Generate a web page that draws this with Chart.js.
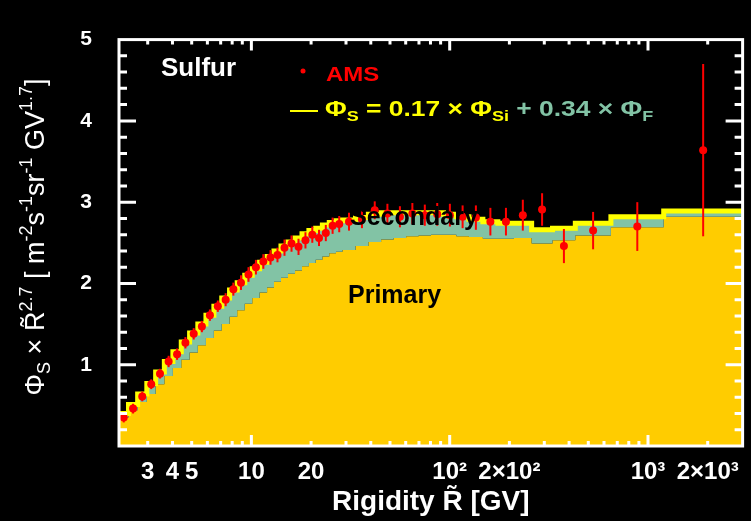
<!DOCTYPE html>
<html><head><meta charset="utf-8">
<script src="https://cdn.jsdelivr.net/npm/chart.js@4/dist/chart.umd.min.js"></script>
<style>html,body{margin:0;padding:0;background:#000;overflow:hidden}</style>
</head><body>
<canvas id="c" width="751" height="521"></canvas>
<script>
// ---- data ----
const binEdges = [2.15, 2.40, 2.67, 2.97, 3.29, 3.64, 4.02, 4.43, 4.88, 5.37, 5.90, 6.47, 7.09, 7.76, 8.48, 9.26, 10.1, 11.0, 12.0, 13.0, 14.1, 15.3, 16.6, 18.0, 19.5, 21.1, 22.8, 24.7, 26.7, 28.8, 33.5, 38.9, 45.1, 52.2, 60.3, 69.7, 80.5, 93.0, 108, 125, 147, 175, 211, 259, 330, 430, 650, 1200, 3000];
const amsFlux = [0.35,0.46,0.61,0.76,0.89,1.04,1.13,1.27,1.38,1.47,1.61,1.72,1.80,1.93,2.01,2.11,2.20,2.27,2.32,2.35,2.44,2.49,2.45,2.53,2.60,2.56,2.62,2.71,2.73,
  2.76,2.79,2.90,2.86,2.82,2.86,2.84,2.85,2.84,2.82,2.81,2.76,2.76,2.84,2.91,2.46,2.65,2.70,3.64];
const amsError = [0.06,0.06,0.06,0.06,0.06,0.07,0.07,0.07,0.07,0.07,0.07,0.07,0.08,0.08,0.09,0.09,0.09,0.09,0.09,0.09,
  0.10,0.10,0.10,0.10,0.10,0.10,0.10,0.10,0.10,
  0.11,0.11,0.11,0.12,0.13,0.13,0.13,0.14,0.14,0.14,0.15,0.17,0.17,0.19,0.20,0.21,0.23,0.30,1.06];
const primaryModel = [0.35,0.44,0.54,0.64,0.76,0.86,0.96,1.06,1.15,1.24,1.33,1.42,1.50,1.59,1.67,1.75,1.82,1.89,1.95,2.02,2.07,2.12,2.16,2.21,2.25,2.29,2.33,2.37,2.39,
  2.41,2.46,2.51,2.54,2.56,2.58,2.59,2.60,2.60,2.58,2.57,2.55,2.55,2.56,2.49,2.53,2.59,2.69,2.82];
const secondaryModel = [0.05,0.07,0.10,0.13,0.15,0.18,0.20,0.22,0.24,0.26,0.28,0.30,0.32,0.33,0.34,0.35,0.36,0.37,0.38,0.38,0.39,0.39,0.40,0.40,0.40,0.39,0.39,0.38,0.38,
  0.37,0.35,0.34,0.33,0.31,0.29,0.28,0.27,0.25,0.24,0.22,0.21,0.19,0.18,0.17,0.15,0.15,0.13,0.07];
const xTickValues = [3, 4, 5, 10, 20, 100, 200, 1000, 2000];
const xTickLabels = ['3', '4', '5', '10', '20', '10\u00B2', '2\u00D710\u00B2', '10\u00B3', '2\u00D710\u00B3'];
const yTickValues = [1, 2, 3, 4, 5];

// ---- colours ----
const GOLD = '#FFCC00', TEAL = '#82C3A5', YEL = '#FFFF00', RED = '#FF0000';
const FONT = "'Liberation Sans', Arial, sans-serif";

// ---- tables built for the library ----
const nb = primaryModel.length;
const primaryPts = binEdges.map((e, i) => ({x: e, y: primaryModel[Math.min(i, nb - 1)]}));
const totalPts = binEdges.map((e, i) => { const k = Math.min(i, nb - 1); return {x: e, y: primaryModel[k] + secondaryModel[k]}; });
const amsPts = amsFlux.map((v, i) => ({x: Math.sqrt(binEdges[i] * binEdges[i + 1]), y: v}));

function drawRich(ctx, segs, x, y, align) {
  let w = 0;
  segs.forEach(s => { ctx.font = (s.bold ? 'bold ' : '') + s.size + 'px ' + FONT; s.w = ctx.measureText(s.t).width; w += s.w; });
  let cx = align === 'center' ? x - w / 2 : x;
  segs.forEach(s => {
    ctx.font = (s.bold ? 'bold ' : '') + s.size + 'px ' + FONT;
    ctx.fillStyle = s.color;
    ctx.fillText(s.t, cx, y + (s.dy || 0));
    cx += s.w;
  });
}

const errorBars = {
  id: 'errorBars',
  beforeDatasetDraw(chart, args) {
    if (args.index !== 2) return;
    const ctx = chart.ctx, ys = chart.scales.y, meta = chart.getDatasetMeta(2);
    ctx.save();
    ctx.strokeStyle = RED; ctx.lineWidth = 2;
    meta.data.forEach((pt, i) => {
      ctx.beginPath();
      ctx.moveTo(pt.x, ys.getPixelForValue(amsFlux[i] - amsError[i]));
      ctx.lineTo(pt.x, ys.getPixelForValue(amsFlux[i] + amsError[i]));
      ctx.stroke();
    });
    ctx.restore();
  }
};

const frameAndText = {
  id: 'frameAndText',
  afterDraw(chart) {
    const ctx = chart.ctx, a = chart.chartArea, xs = chart.scales.x, ys = chart.scales.y;
    ctx.save();
    // in-plot labels
    ctx.textBaseline = 'middle'; ctx.textAlign = 'left';
    ctx.font = 'bold 25px ' + FONT; ctx.fillStyle = '#000';
    ctx.fillText('Secondary', 350, 218);
    ctx.fillText('Primary', 348, 296);
    ctx.font = 'bold 26px ' + FONT; ctx.fillStyle = '#fff';
    ctx.fillText('Sulfur', 161, 69);
    // legend
    ctx.fillStyle = RED;
    ctx.beginPath(); ctx.arc(303, 71, 2.5, 0, Math.PI * 2); ctx.fill();
    ctx.strokeStyle = YEL; ctx.lineWidth = 2;
    ctx.beginPath(); ctx.moveTo(290, 111); ctx.lineTo(318, 111); ctx.stroke();
    ctx.textBaseline = 'alphabetic';
    ctx.save(); ctx.translate(326, 81); ctx.scale(1.2, 1);
    drawRich(ctx, [{t: 'AMS', size: 20, bold: true, color: RED}], 0, 0, 'left');
    ctx.restore();
    ctx.save(); ctx.translate(325, 116); ctx.scale(1.2, 1);
    drawRich(ctx, [
      {t: '\u03A6', size: 22, bold: true, color: YEL},
      {t: 'S', size: 15, bold: true, color: YEL, dy: 5},
      {t: ' = 0.17 \u00D7 \u03A6', size: 22, bold: true, color: YEL},
      {t: 'Si', size: 15, bold: true, color: YEL, dy: 5},
      {t: ' + 0.34 \u00D7 \u03A6', size: 22, bold: true, color: TEAL},
      {t: 'F', size: 15, bold: true, color: TEAL, dy: 5}
    ], 0, 0, 'left');
    ctx.restore();
    // y axis title
    ctx.save(); ctx.translate(44, 237); ctx.rotate(-Math.PI / 2);
    const W = '#fff';
    drawRich(ctx, [
      {t: '\u03A6', size: 27, color: W},
      {t: 'S', size: 18, color: W, dy: 6},
      {t: ' \u00D7 ', size: 27, color: W},
      {t: 'R\u0303', size: 27, color: W},
      {t: '2.7', size: 18, color: W, dy: -12},
      {t: ' [ m', size: 27, color: W},
      {t: '-2', size: 18, color: W, dy: -12},
      {t: 's', size: 27, color: W},
      {t: '-1', size: 18, color: W, dy: -12},
      {t: 'sr', size: 27, color: W},
      {t: '-1', size: 18, color: W, dy: -12},
      {t: ' GV', size: 27, color: W},
      {t: '1.7', size: 18, color: W, dy: -12},
      {t: ']', size: 27, color: W}
    ], 0, 0, 'center');
    ctx.restore();
    // ticks (inside) and frame
    ctx.strokeStyle = '#fff'; ctx.lineWidth = 3;
    ctx.beginPath();
    [1, 10, 100, 1000].forEach(d => {
      for (let m = 1; m <= 9; m++) {
        const v = m * d;
        if (v <= xs.min || v >= xs.max) continue;
        const px = xs.getPixelForValue(v), len = m === 1 ? 11 : 5;
        ctx.moveTo(px, a.bottom); ctx.lineTo(px, a.bottom - len);
        ctx.moveTo(px, a.top); ctx.lineTo(px, a.top + len);
      }
    });
    for (let k = 1; k < 25; k++) {
      const py = ys.getPixelForValue(k * 0.2), len = k % 5 === 0 ? 17 : 8;
      ctx.moveTo(a.left, py); ctx.lineTo(a.left + len, py);
      ctx.moveTo(a.right, py); ctx.lineTo(a.right - len, py);
    }
    ctx.stroke();
    ctx.strokeRect(a.left, a.top, a.right - a.left, a.bottom - a.top);
    ctx.restore();
  }
};

Chart.defaults.font.family = FONT;
new Chart(document.getElementById('c'), {
  type: 'line',
  data: {
    datasets: [
      {label: 'Primary', data: primaryPts, stepped: 'before', fill: 'origin', backgroundColor: GOLD, borderWidth: 0, borderColor: GOLD, pointRadius: 0, order: 3},
      {label: 'Total', data: totalPts, stepped: 'before', fill: '-1', backgroundColor: TEAL, borderColor: YEL, borderWidth: 5, pointRadius: 0, order: 2},
      {label: 'AMS', data: amsPts, showLine: false, pointRadius: 4, pointBackgroundColor: RED, pointBorderWidth: 0, borderColor: RED, order: 1}
    ]
  },
  options: {
    responsive: false, animation: false, devicePixelRatio: 1,
    layout: {padding: {top: 20, right: 5, left: 0, bottom: 0}},
    plugins: {legend: {display: false}, tooltip: {enabled: false}},
    scales: {
      x: {
        type: 'logarithmic', min: 2.15, max: 3000,
        grid: {display: false, drawTicks: false}, border: {display: false},
        ticks: {color: '#fff', font: {size: 24, weight: 'bold'}, padding: 12, autoSkip: false, maxRotation: 0,
                callback: (v, i) => xTickLabels[i]},
        afterBuildTicks: s => { s.ticks = xTickValues.map(v => ({value: v})); },
        afterFit: s => { s.height = 75; },
        title: {display: true, text: 'Rigidity R\u0303 [GV]', color: '#fff', font: {size: 28, weight: 'bold'}, padding: {top: 0, bottom: 2}}
      },
      y: {
        type: 'linear', min: 0, max: 5,
        grid: {display: false, drawTicks: false}, border: {display: false},
        ticks: {stepSize: 1, color: '#fff', font: {size: 21, weight: 'bold'}, padding: 27,
                callback: v => yTickValues.includes(v) ? String(v) : ''},
        afterFit: s => { s.width = 119; }
      }
    }
  },
  plugins: [errorBars, frameAndText]
});
</script>
</body></html>
